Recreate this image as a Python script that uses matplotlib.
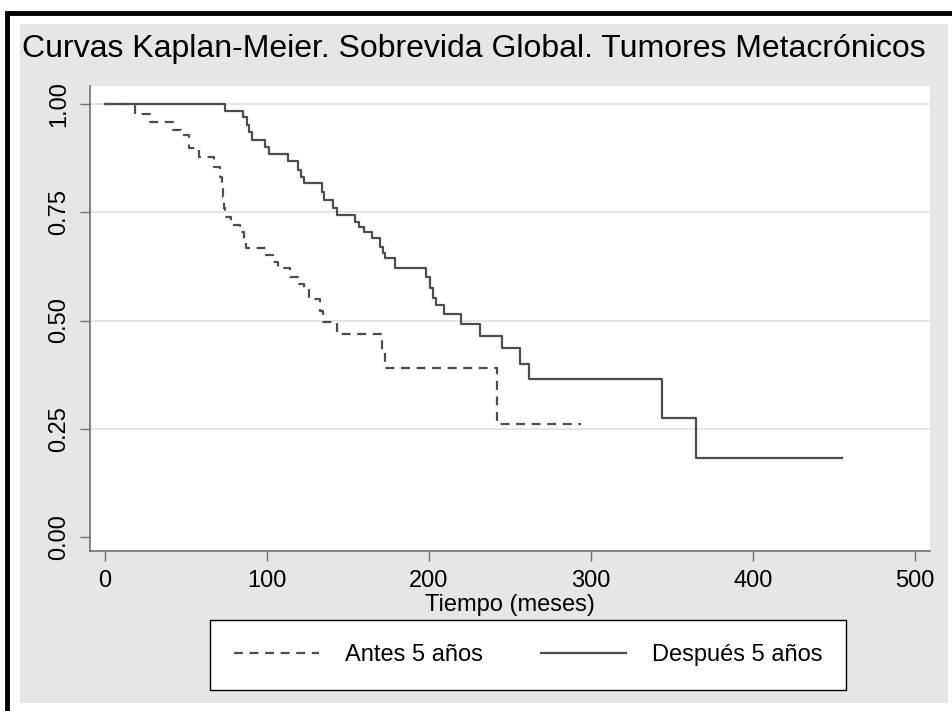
import matplotlib
matplotlib.use('Agg')
import matplotlib.pyplot as plt
from matplotlib.patches import Rectangle

######### datos ##########################################################

# grupo "Antes 5 años" (tiempo del evento, supervivencia tras el evento)
t_antes = [0, 18.5, 27.5, 42, 47, 52, 58, 67.5, 71, 72.5, 73, 73.5, 74, 78, 83, 86, 87,
           99.5, 103.5, 107, 114, 119, 123, 126, 132.5, 134.5, 143.5, 171, 173, 242, 294]
s_antes = [1.0, 0.978, 0.959, 0.941, 0.928, 0.898, 0.878, 0.855, 0.832, 0.81, 0.785, 0.76, 0.74,
           0.72, 0.705, 0.686, 0.667, 0.652, 0.636, 0.621, 0.60, 0.585, 0.57, 0.549, 0.523,
           0.497, 0.468, 0.43, 0.391, 0.26, 0.26]

# grupo "Después 5 años"
t_desp = [0, 74, 85, 87.4, 89, 91, 99, 101, 113, 119, 121, 123, 134, 135, 141, 143, 154, 157,
          160, 165, 170, 171.5, 173, 179, 198, 200.5, 202.7, 204.5, 209, 220, 231.5, 245, 256,
          262, 344, 365, 455]
s_desp = [1.0, 0.985, 0.971, 0.951, 0.936, 0.917, 0.901, 0.885, 0.869, 0.848, 0.832, 0.817,
          0.797, 0.778, 0.761, 0.744, 0.728, 0.717, 0.705, 0.690, 0.670, 0.655, 0.644, 0.622,
          0.601, 0.574, 0.551, 0.536, 0.515, 0.491, 0.464, 0.436, 0.399, 0.364, 0.274, 0.183,
          0.183]

xticks = [0, 100, 200, 300, 400, 500]
yticks = [0.0, 0.25, 0.5, 0.75, 1.0]
ytick_labels = ['0.00', '0.25', '0.50', '0.75', '1.00']

titulo = 'Curvas Kaplan-Meier. Sobrevida Global. Tumores Metacrónicos'
etiqueta_x = 'Tiempo (meses)'
leyenda = ['Antes 5 años', 'Después 5 años']

######### gráfico #######################################

plt.rcParams['font.family'] = ['Liberation Sans', 'DejaVu Sans']

W, H = 952, 711
fig = plt.figure(figsize=(W / 100, H / 100), dpi=100, facecolor='white')

# fondo gris y marco negro
fig.patches.append(Rectangle((20 / W, 1 - 703 / H), 928 / W, 679 / H, transform=fig.transFigure,
                             facecolor='#e6e6e6', edgecolor='none', zorder=0))
fig.patches.append(Rectangle((7 / W, -0.05), 1.05, 1 - 13 / H + 0.05, transform=fig.transFigure,
                             facecolor='none', edgecolor='black', linewidth=3.5, zorder=1))

ax = fig.add_axes([90 / W, 1 - 551 / H, 840 / W, 465 / H])
ax.set_zorder(3)
ax.set_facecolor('white')

ax.step(t_antes, s_antes, where='post', color='#4d4d4d', linewidth=1.6,
        linestyle=(0, (4, 3)), label=leyenda[0])
ax.step(t_desp, s_desp, where='post', color='#4d4d4d', linewidth=1.6,
        linestyle='-', label=leyenda[1])

ax.set_xlim(-9.3, 509.3)
ax.set_ylim(-0.0323, 1.0416)

for y in yticks[1:]:
    ax.axhline(y, color='#e0e0e0', linewidth=1.2, zorder=0)

ax.set_xticks(xticks)
ax.set_yticks(yticks)
ax.set_yticklabels(ytick_labels, rotation=90, va='center')
ax.tick_params(axis='both', labelsize=17, length=7, width=1, color='#707070', pad=7)

for s in ['top', 'right']:
    ax.spines[s].set_visible(False)
for s in ['left', 'bottom']:
    ax.spines[s].set_color('#707070')
    ax.spines[s].set_linewidth(1.2)

ax.set_xlabel(etiqueta_x, fontsize=17, labelpad=1)

fig.text(22 / W, 1 - 57 / H, titulo, fontsize=23, ha='left', va='baseline', zorder=3)

leg = fig.legend(loc='center', ncol=2, mode='expand',
                 bbox_to_anchor=(210 / W, 1 - 687 / H, 636 / W, 64 / H),
                 fontsize=17, frameon=True, fancybox=False, framealpha=1, handlelength=3.6,
                 handletextpad=1.1, borderpad=1.0, borderaxespad=0)
leg.get_frame().set_edgecolor('black')
leg.get_frame().set_linewidth(1.0)
leg.set_zorder(4)

plt.savefig('out.png', dpi=100, facecolor='white')
